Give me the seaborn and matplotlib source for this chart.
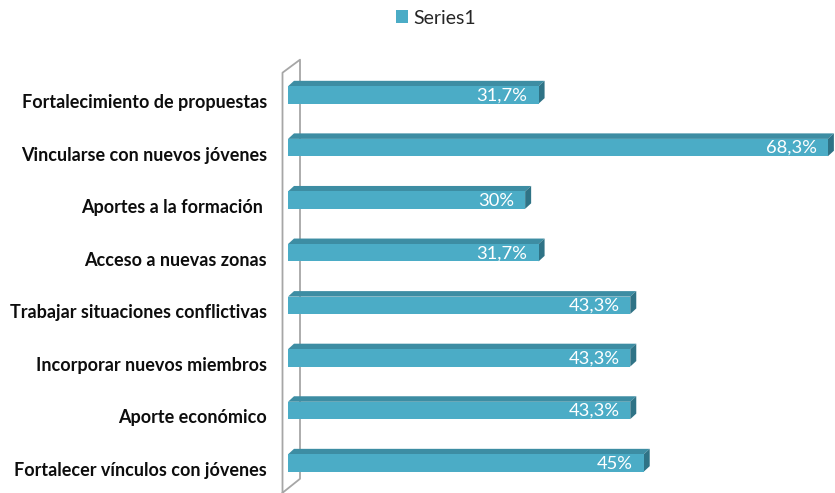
import matplotlib
matplotlib.use("Agg")
import matplotlib.pyplot as plt
import matplotlib.transforms as mtransforms
from matplotlib.patches import Polygon, Patch
import seaborn as sns
import pandas as pd

categories = [
    "Fortalecimiento de propuestas",
    "Vincularse con nuevos jóvenes",
    "Aportes a la formación ",
    "Acceso a nuevas zonas",
    "Trabajar situaciones conflictivas",
    "Incorporar nuevos miembros",
    "Aporte económico",
    "Fortalecer vínculos con jóvenes",
]
values = [31.7, 68.3, 30.0, 31.7, 43.3, 43.3, 43.3, 45.0]
value_labels = ["31,7%", "68,3%", "30%", "31,7%", "43,3%", "43,3%", "43,3%", "45%"]
series_name = "Series1"

FRONT = "#4BACC6"
TOP = "#3D8DA3"
SIDE = "#2F7386"
WALL = "#A6A6A6"

sns.set_theme(style="white")
plt.rcParams["font.family"] = ["Lato", "DejaVu Sans"]

df = pd.DataFrame({"cat": categories, "val": values})

W, H = 835, 493
fig = plt.figure(figsize=(W / 100, H / 100), dpi=100)
ax_left, ax_right = 288, 835
ax_top, ax_bot = 68.7, 489.3
ax = fig.add_axes([ax_left / W, 1 - ax_bot / H, (ax_right - ax_left) / W, (ax_bot - ax_top) / H])

sns.barplot(data=df, x="val", y="cat", orient="h", color=FRONT, width=0.33,
            saturation=1, ax=ax, edgecolor="none")

px_per_x = (ax_right - ax_left) / 69.2
ax.set_xlim(0, 69.2)
ax.set_ylim(len(categories) - 0.5, -0.5)
px_per_y = (ax_bot - ax_top) / len(categories)

# depth of the 3D extrusion, in data units
dx = 6 / px_per_x
dy = 5.5 / px_per_y

for bar in ax.patches:
    x0 = bar.get_x()
    w = bar.get_width()
    y0 = bar.get_y()
    h = bar.get_height()
    top_edge = y0  # y axis is inverted: smaller value is higher
    bot_edge = y0 + h
    x1 = x0 + w
    top_face = Polygon([(x0, top_edge), (x1, top_edge), (x1 + dx, top_edge - dy), (x0 + dx, top_edge - dy)],
                       closed=True, facecolor=TOP, edgecolor="none", clip_on=False, zorder=3)
    side_face = Polygon([(x1, top_edge), (x1 + dx, top_edge - dy), (x1 + dx, bot_edge - dy), (x1, bot_edge)],
                        closed=True, facecolor=SIDE, edgecolor="none", clip_on=False, zorder=3)
    ax.add_patch(top_face)
    ax.add_patch(side_face)
    bar.set_zorder(4)

# value labels inside the bars
for i, (v, lab) in enumerate(zip(values, value_labels)):
    ax.text(v - 11 / px_per_x, i + 0.5 / px_per_y, lab, ha="right", va="center", color="white",
            fontsize=13.2, zorder=5)

# back wall of the 3D frame
wall_x_front = -5.5 / px_per_x
wall_x_back = wall_x_front + 17.5 / px_per_x
y_lo = len(categories) - 0.5 + 3.5 / px_per_y
y_hi = -0.5 + 4 / px_per_y
wall_pts = [(wall_x_front, y_lo), (wall_x_front, y_hi),
            (wall_x_back, y_hi - 13 / px_per_y), (wall_x_back, y_lo - 14 / px_per_y),
            (wall_x_front, y_lo)]
xs, ys = zip(*wall_pts)
ax.plot(xs, ys, color=WALL, lw=1.3, clip_on=False, zorder=2)

ax.set_xlabel("")
ax.set_ylabel("")
ax.set_xticks([])
for s in ax.spines.values():
    s.set_visible(False)
ax.tick_params(axis="y", length=0, pad=15)
ax.set_yticks(range(len(categories)))
ax.set_yticklabels(categories, fontsize=13, fontweight="bold", color="#0d0d0d")
shift = mtransforms.ScaledTranslation(0, -6 / 100, fig.dpi_scale_trans)
for t in ax.get_yticklabels():
    t.set_transform(t.get_transform() + shift)

fig.legend(handles=[Patch(facecolor=FRONT, edgecolor="none", label=series_name)],
           loc="center", bbox_to_anchor=(436 / W, 1 - 18 / H), frameon=False,
           fontsize=14, handlelength=0.6, handleheight=0.6, handletextpad=0.3)

fig.savefig("out.png", dpi=100)
